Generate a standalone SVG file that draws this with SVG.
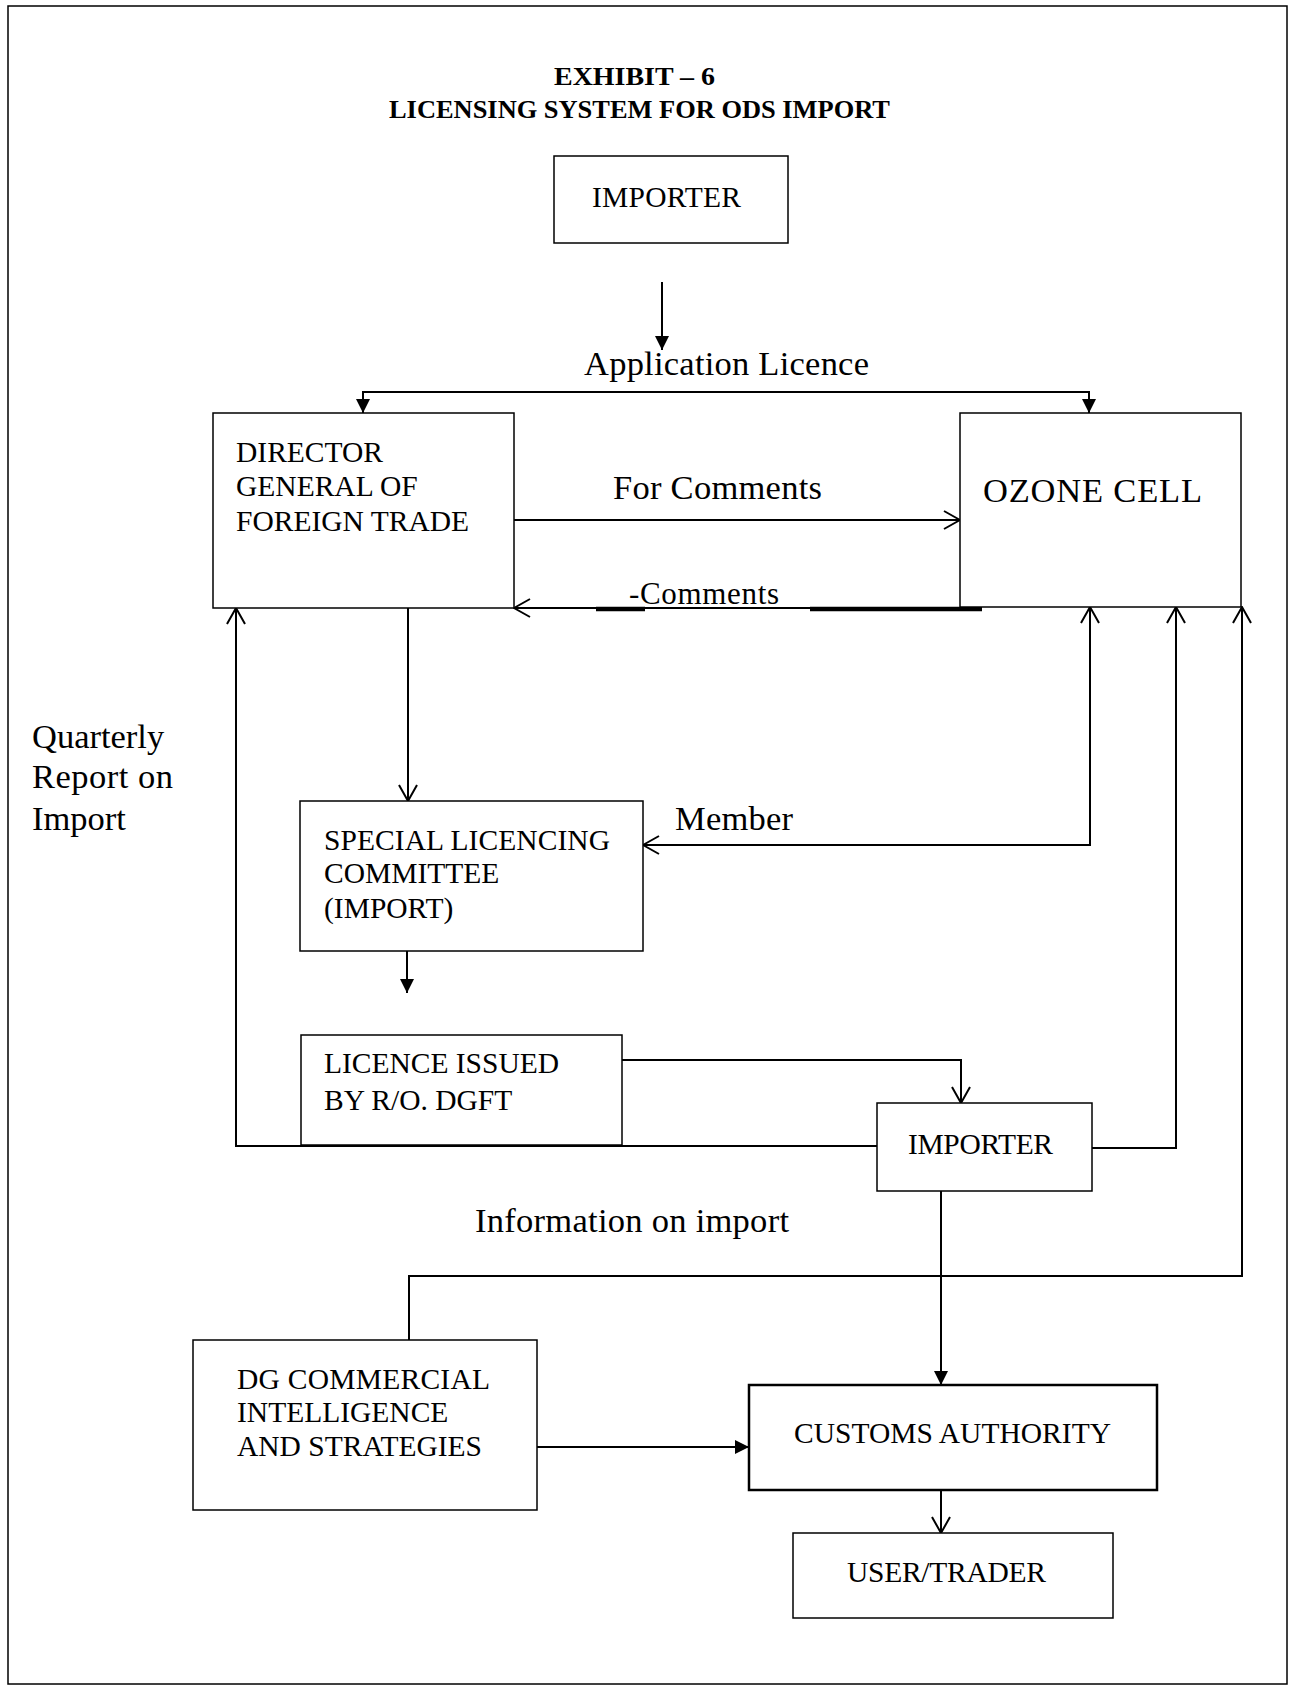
<svg xmlns="http://www.w3.org/2000/svg" width="1292" height="1689" viewBox="0 0 1292 1689">
<style>
  .box { fill: #fff; stroke: #000; stroke-width: 1.5; }
  .boxb { fill: #fff; stroke: #000; stroke-width: 2.5; }
  .t { font-family: "Liberation Serif", "Times New Roman", serif; font-size: 29.5px; fill: #000; }
  .lbl { font-family: "Liberation Serif", "Times New Roman", serif; font-size: 34.5px; fill: #000; }
  .title { font-family: "Liberation Serif", "Times New Roman", serif; font-size: 26px; font-weight: bold; fill: #000; }
  .c { fill: none; stroke: #000; stroke-width: 2; }
  .ct { fill: none; stroke: #000; stroke-width: 2; marker-end: url(#tri); }
  .cc { fill: none; stroke: #000; stroke-width: 2; marker-end: url(#chev); }
</style>
<defs>
  <marker id="tri" viewBox="0 0 14 14" refX="14" refY="7" markerWidth="14" markerHeight="14" markerUnits="userSpaceOnUse" orient="auto-start-reverse">
    <path d="M0,0 L14,7 L0,14 z" fill="#000"/>
  </marker>
  <marker id="chev" viewBox="0 0 18 20" refX="17" refY="10" markerWidth="18" markerHeight="20" markerUnits="userSpaceOnUse" orient="auto-start-reverse">
    <path d="M1,1 L17,10 L1,19" fill="none" stroke="#000" stroke-width="2"/>
  </marker>
</defs>
<rect width="1292" height="1689" fill="#fff"/>
<rect x="8" y="6" width="1279" height="1678" fill="none" stroke="#000" stroke-width="1.5"/>

<g id="title">
  <text class="title" x="554" y="85" textLength="161" lengthAdjust="spacingAndGlyphs">EXHIBIT – 6</text>
  <text class="title" x="389" y="118" textLength="501" lengthAdjust="spacingAndGlyphs">LICENSING SYSTEM FOR ODS IMPORT</text>
</g>

<g id="connectors">
  <path class="ct" d="M662,282 V350"/>
  <path class="c" d="M363,413 V392 H1089 V413" marker-start="url(#tri)" marker-end="url(#tri)"/>
  <path class="cc" d="M514,520 H960"/>
  <path class="cc" d="M982,608 H514"/>
  <path d="M596,609 H645 M810,609 H982" stroke="#000" stroke-width="4.5" fill="none"/>
  <path class="cc" d="M408,608 V801"/>
  <path class="c" d="M1090,607 V845 H643" marker-start="url(#chev)" marker-end="url(#chev)"/>
  <path class="ct" d="M407,951 V993"/>
  <path class="cc" d="M622,1060 H961 V1103"/>
  <path class="cc" d="M877,1146 H236 V608"/>
  <path class="cc" d="M1092,1148 H1176 V607"/>
  <path class="cc" d="M409,1340 V1276 H1242 V607"/>
  <path class="ct" d="M537,1447 H749"/>
  <path class="ct" d="M941,1191 V1385"/>
  <path class="cc" d="M941,1490 V1533"/>
</g>

<g id="labels">
  <text class="lbl" x="584" y="375" textLength="285">Application Licence</text>
  <text class="lbl" x="613" y="499" textLength="209">For Comments</text>
  <text class="t" x="629" y="604" style="font-size:31px" textLength="150">-Comments</text>
  <text class="lbl" x="675" y="830" textLength="118">Member</text>
  <text class="lbl" x="32" y="748">Quarterly</text>
  <text class="lbl" x="32" y="788" textLength="141">Report on</text>
  <text class="lbl" x="32" y="830">Import</text>
  <text class="lbl" x="475" y="1232" textLength="314">Information on import</text>
</g>

<g id="importer-top">
  <rect class="box" x="554" y="156" width="234" height="87"/>
  <text class="t" x="592" y="207" textLength="149">IMPORTER</text>
</g>

<g id="dgft">
  <rect class="box" x="213" y="413" width="301" height="195"/>
  <text class="t" x="236" y="462" textLength="147">DIRECTOR</text>
  <text class="t" x="236" y="496">GENERAL OF</text>
  <text class="t" x="236" y="531">FOREIGN TRADE</text>
</g>

<g id="ozone">
  <rect class="box" x="960" y="413" width="281" height="194"/>
  <text class="lbl" x="983" y="502" textLength="219">OZONE CELL</text>
</g>

<g id="slc">
  <rect class="box" x="300" y="801" width="343" height="150"/>
  <text class="t" x="324" y="850" textLength="286">SPECIAL LICENCING</text>
  <text class="t" x="324" y="883">COMMITTEE</text>
  <text class="t" x="324" y="918">(IMPORT)</text>
</g>

<g id="licence">
  <rect class="box" x="301" y="1035" width="321" height="110"/>
  <text class="t" x="324" y="1073" textLength="235">LICENCE ISSUED</text>
  <text class="t" x="324" y="1110">BY R/O. DGFT</text>
</g>

<g id="importer2">
  <rect class="box" x="877" y="1103" width="215" height="88"/>
  <text class="t" x="908" y="1154" textLength="145">IMPORTER</text>
</g>

<g id="dgcis">
  <rect class="box" x="193" y="1340" width="344" height="170"/>
  <text class="t" x="237" y="1389" textLength="253">DG COMMERCIAL</text>
  <text class="t" x="237" y="1422">INTELLIGENCE</text>
  <text class="t" x="237" y="1456">AND STRATEGIES</text>
</g>

<g id="customs">
  <rect class="boxb" x="749" y="1385" width="408" height="105"/>
  <text class="t" x="794" y="1443" textLength="317">CUSTOMS AUTHORITY</text>
</g>

<g id="user">
  <rect class="box" x="793" y="1533" width="320" height="85"/>
  <text class="t" x="847" y="1582" textLength="199">USER/TRADER</text>
</g>
</svg>
